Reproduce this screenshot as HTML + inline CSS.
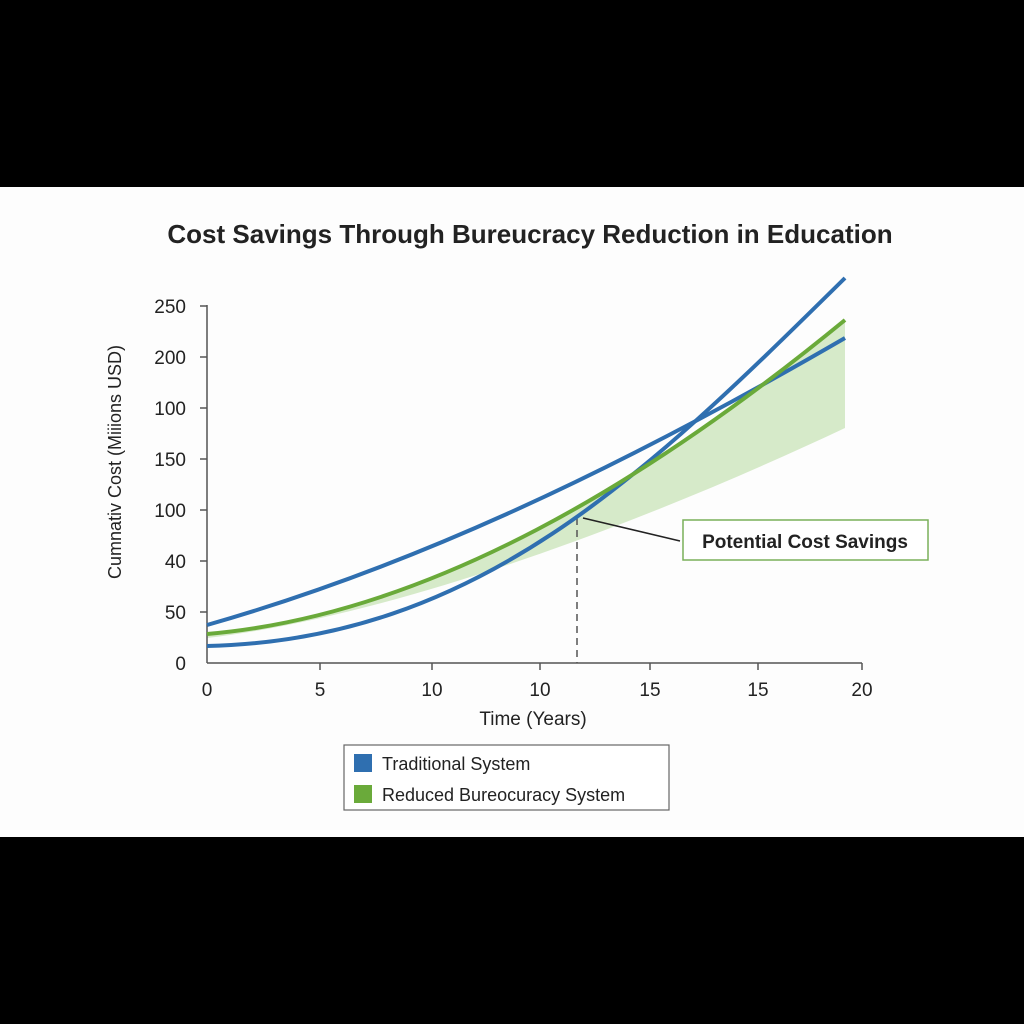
<!DOCTYPE html>
<html><head><style>
body{margin:0;background:#000;}
svg{display:block;}
text{font-family:"Liberation Sans",sans-serif;fill:#222;}
</style></head><body>
<svg width="1024" height="1024" viewBox="0 0 1024 1024">
<rect x="0" y="0" width="1024" height="1024" fill="#000"/>
<rect x="0" y="187" width="1024" height="650" fill="#fdfdfd"/>
<text x="530" y="243" font-size="26" font-weight="bold" text-anchor="middle" fill="#1a1a1a">Cost Savings Through Bureucracy Reduction in Education</text>
<path d="M207,634 C430,615 650,480 845,320 L845,428 C650,520 400,615 207,638 Z" fill="#cfe6c0" opacity="0.85"/>
<line x1="207" y1="305" x2="207" y2="663" stroke="#555" stroke-width="1.5"/>
<line x1="207" y1="663" x2="862" y2="663" stroke="#555" stroke-width="1.5"/>
<g stroke="#555" stroke-width="1.5">
<line x1="200" y1="306" x2="207" y2="306"/><line x1="200" y1="357" x2="207" y2="357"/><line x1="200" y1="408" x2="207" y2="408"/><line x1="200" y1="459" x2="207" y2="459"/><line x1="200" y1="510" x2="207" y2="510"/><line x1="200" y1="561" x2="207" y2="561"/><line x1="200" y1="612" x2="207" y2="612"/>
<line x1="320" y1="663" x2="320" y2="670"/><line x1="432" y1="663" x2="432" y2="670"/><line x1="540" y1="663" x2="540" y2="670"/><line x1="650" y1="663" x2="650" y2="670"/><line x1="758" y1="663" x2="758" y2="670"/><line x1="862" y1="663" x2="862" y2="670"/>
</g>
<g font-size="19" text-anchor="end">
<text x="186" y="313">250</text><text x="186" y="364">200</text><text x="186" y="415">100</text><text x="186" y="466">150</text><text x="186" y="517">100</text><text x="186" y="568">40</text><text x="186" y="619">50</text><text x="186" y="670">0</text>
</g>
<g font-size="19" text-anchor="middle">
<text x="207" y="696">0</text><text x="320" y="696">5</text><text x="432" y="696">10</text><text x="540" y="696">10</text><text x="650" y="696">15</text><text x="758" y="696">15</text><text x="862" y="696">20</text>
</g>
<text x="533" y="725" font-size="19" text-anchor="middle">Time (Years)</text>
<text transform="translate(121,462) rotate(-90)" font-size="18" text-anchor="middle">Cumnativ Cost (Miiions USD)</text>
<line x1="577" y1="518" x2="577" y2="663" stroke="#555" stroke-width="1.5" stroke-dasharray="7,5"/>
<path d="M207,625 C400,570 600,480 845,338" fill="none" stroke="#2f6fb0" stroke-width="4"/>
<path d="M207,646 C480,640 650,470 845,278" fill="none" stroke="#2f6fb0" stroke-width="4"/>
<path d="M207,634 C430,615 650,480 845,320" fill="none" stroke="#6aaa3a" stroke-width="4"/>
<line x1="583" y1="518" x2="680" y2="541" stroke="#222" stroke-width="1.5"/>
<rect x="683" y="520" width="245" height="40" fill="#fff" stroke="#7ab05a" stroke-width="1.5"/>
<text x="805" y="548" font-size="19" font-weight="bold" text-anchor="middle" fill="#111">Potential Cost Savings</text>
<rect x="344" y="745" width="325" height="65" fill="#fff" stroke="#666" stroke-width="1.2"/>
<rect x="354" y="754" width="18" height="18" fill="#2f6fb0"/>
<rect x="354" y="785" width="18" height="18" fill="#6aaa3a"/>
<text x="382" y="770" font-size="18">Traditional System</text>
<text x="382" y="801" font-size="18">Reduced Bureocuracy System</text>
</svg>
</body></html>
